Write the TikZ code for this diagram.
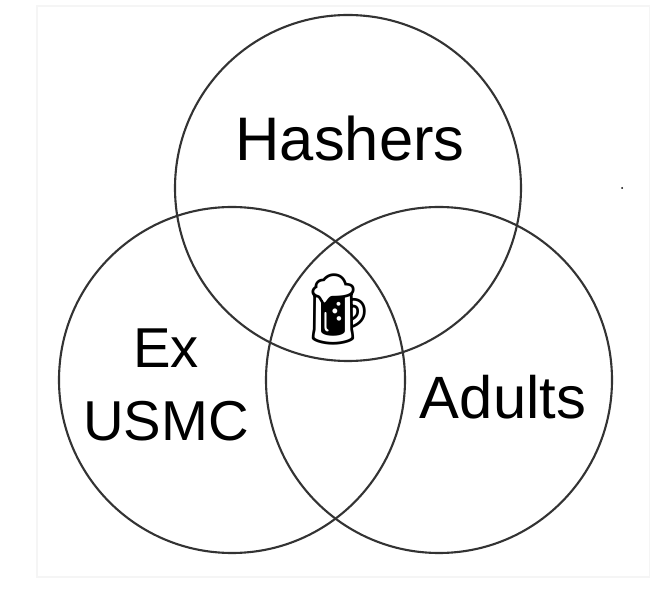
\documentclass[tikz,border=0pt]{standalone}
\usepackage{fontspec}
\setmainfont{Liberation Sans}
\newfontfamily\emojifont{Noto Emoji}
\begin{document}
\begin{tikzpicture}[x=0.02cm,y=-0.02cm,
    setcircle/.style={draw=black!80,line width=1.2pt},
    setlabel/.style={font=\fontsize{35}{41}\selectfont,align=center,inner sep=0pt}]
        % Background and faint frame
        \useasboundingbox (0,0) rectangle (650,591);
        \draw[black!4,line width=1pt] (37,6) rectangle (650,577);
        % Draw the three sets
        \draw[setcircle] (348,188) circle (173);
        \draw[setcircle] (232,380) circle (173);
        \draw[setcircle] (439,380) circle (173);
        % Draw labels
        \node[setlabel] (hashers) at (350,139) {Hashers};
        \node[setlabel,font=\fontsize{32}{42}\selectfont] (usmc) at (166,385) {Ex\\USMC};
        \node[setlabel,font=\fontsize{34}{40}\selectfont] (adults) at (503,397) {Adults};
        \node[font=\fontsize{40}{44}\selectfont\emojifont,inner sep=0pt] (beer) at (339,309) {🍺};
        \fill (622,188) circle (1);
    \end{tikzpicture}
\end{document}
